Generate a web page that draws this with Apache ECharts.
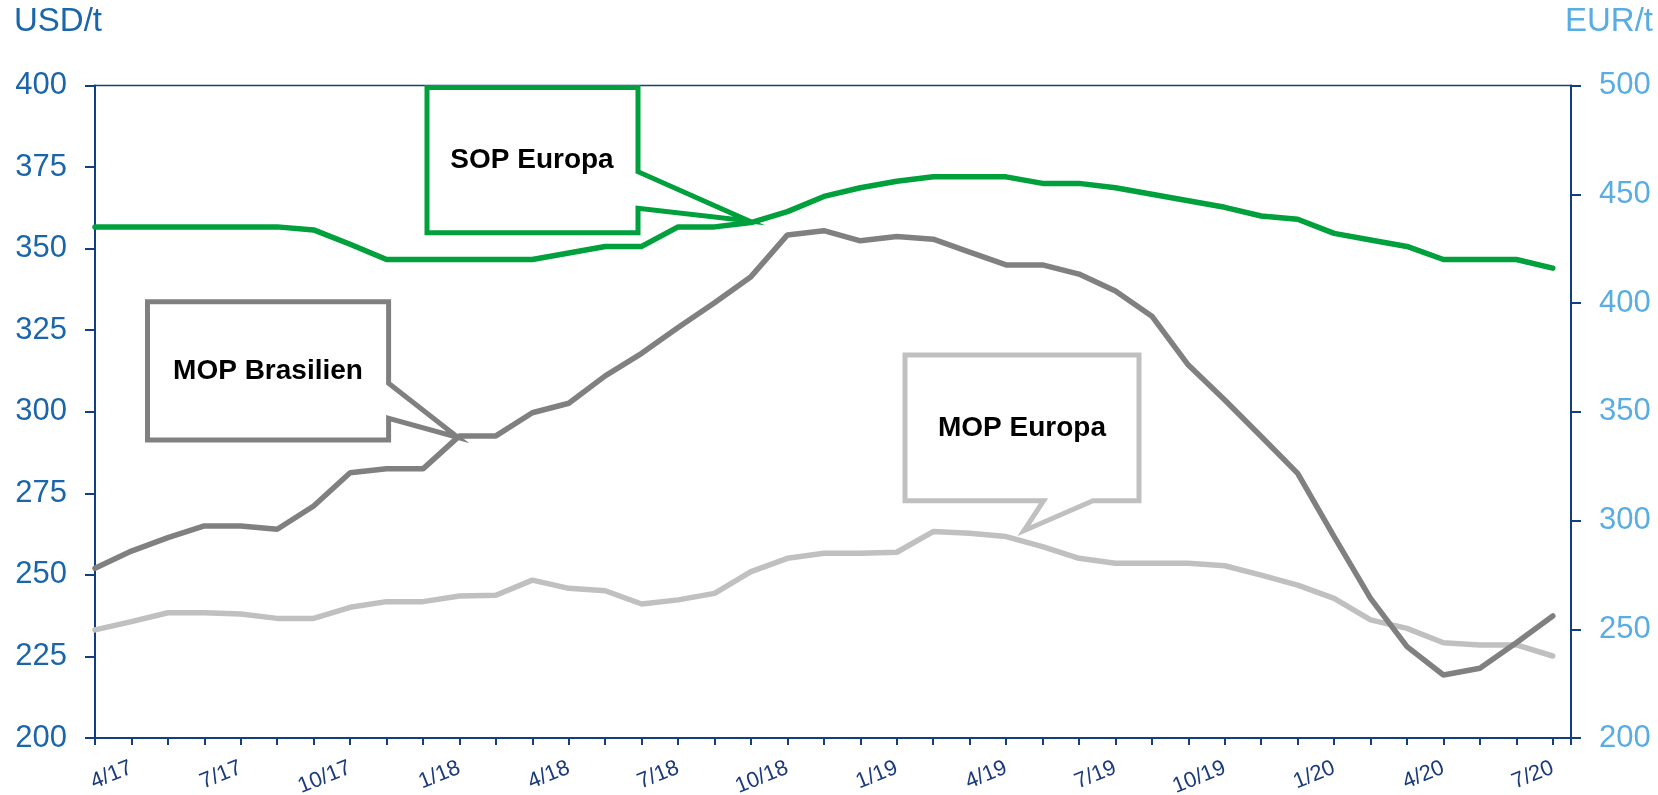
<!DOCTYPE html>
<html>
<head>
<meta charset="utf-8">
<script src="https://cdn.jsdelivr.net/npm/echarts/dist/echarts.min.js"></script>
<style>
  html, body { margin: 0; padding: 0; background: #fff; }
  #chart { width: 1658px; height: 795px; }
</style>
</head>
<body>
<div id="chart"></div>
<script>
// months, first point is 3/17
const months = [
  '3/17', '4/17', '5/17', '6/17', '7/17', '8/17', '9/17', '10/17', '11/17', '12/17',
  '1/18', '2/18', '3/18', '4/18', '5/18', '6/18', '7/18', '8/18', '9/18', '10/18', '11/18', '12/18',
  '1/19', '2/19', '3/19', '4/19', '5/19', '6/19', '7/19', '8/19', '9/19', '10/19', '11/19', '12/19',
  '1/20', '2/20', '3/20', '4/20', '5/20', '6/20', '7/20'
];

// USD/t (left axis)
const mopBrasilien = [
  252, 257.3, 261.4, 265, 265, 264, 271.1, 281.3, 282.5, 282.5,
  292.6, 292.6, 299.7, 302.6, 311, 317.9, 325.8, 333.4, 341.4, 354.2, 355.5, 352.4,
  353.7, 352.9, 348.9, 345, 345, 342.2, 337, 329.3, 314.3, 303.6, 292.4, 281.1,
  261.7, 242.8, 228, 219.3, 221.4, 229.2, 237.4
];

// EUR/t (right axis)
const sopEuropa = [
  435, 435, 435, 435, 435, 435, 433.6, 427, 420, 420,
  420, 420, 420, 423, 426, 426, 435, 435, 437, 442, 449, 453,
  456, 458, 458, 458, 455, 455, 453, 450, 447, 444, 440, 438.5,
  432, 429, 426, 420, 420, 420, 416
];

const mopEuropa = [
  249.7, 253.5, 257.6, 257.6, 257, 255, 255, 260.1, 262.7, 262.7,
  265.3, 265.6, 272.6, 268.8, 267.7, 261.6, 263.5, 266.5, 276.5, 282.6, 284.9, 284.9,
  285.4, 294.9, 294.1, 292.6, 288, 282.6, 280.3, 280.3, 280.3, 279.2, 274.9, 270.3,
  264.2, 254.3, 250.4, 243.8, 242.8, 242.8, 237.7
];

const FONT = '"Liberation Sans", Arial, sans-serif';
const NAVY = '#123f80';
const toPairs = (arr) => arr.map((v, i) => [i, v]);

const chart = echarts.init(document.getElementById('chart'));

const callout = (points, color) => ({
  type: 'polygon',
  shape: { points },
  style: { fill: null, stroke: color, lineWidth: 5, lineJoin: 'miter' },
  z: 10
});
const calloutText = (text, x, y) => ({
  type: 'text',
  x, y,
  style: {
    text,
    font: 'bold 28px ' + FONT,
    fill: '#000',
    align: 'center',
    verticalAlign: 'middle'
  },
  z: 11
});

chart.setOption({
  animation: false,
  grid: {
    left: 95, right: 87, top: 85.5, bottom: 57,
    outerBoundsMode: 'none',
    show: true,
    borderColor: NAVY,
    borderWidth: 1.5
  },
  xAxis: {
    type: 'value',
    min: 0,
    max: months.length - 0.5,
    interval: 1,
    splitLine: { show: false },
    axisLine: { lineStyle: { color: NAVY, width: 2 } },
    axisTick: { length: 7, lineStyle: { color: NAVY, width: 2 } },
    axisLabel: {
      rotate: 22,
      margin: 29,
      color: '#1a3a7c',
      fontSize: 22,
      fontFamily: FONT,
      showMaxLabel: true,
      formatter: (v) => (Number.isInteger(v) && (v - 1) % 3 === 0 ? months[v] : '')
    }
  },
  yAxis: [
    {
      type: 'value',
      min: 200, max: 400, interval: 25,
      splitLine: { show: false },
      axisLine: { show: true, lineStyle: { color: NAVY, width: 2 } },
      axisTick: { show: true, length: 10, lineStyle: { color: NAVY, width: 2 } },
      axisLabel: { margin: 28, color: '#1b65aa', fontSize: 31, fontFamily: FONT }
    },
    {
      type: 'value',
      position: 'right',
      min: 200, max: 500, interval: 50,
      splitLine: { show: false },
      axisLine: { show: true, lineStyle: { color: NAVY, width: 2 } },
      axisTick: { show: true, length: 10, lineStyle: { color: NAVY, width: 2 } },
      axisLabel: { margin: 28, color: '#5aade2', fontSize: 31, fontFamily: FONT }
    }
  ],
  series: [
    {
      name: 'MOP Europa',
      type: 'line',
      yAxisIndex: 1,
      data: toPairs(mopEuropa),
      showSymbol: false,
      lineStyle: { color: '#c0c0c0', width: 5.5, cap: 'round' }
    },
    {
      name: 'MOP Brasilien',
      type: 'line',
      yAxisIndex: 0,
      data: toPairs(mopBrasilien),
      showSymbol: false,
      lineStyle: { color: '#808080', width: 5.5, cap: 'round' }
    },
    {
      name: 'SOP Europa',
      type: 'line',
      yAxisIndex: 1,
      data: toPairs(sopEuropa),
      showSymbol: false,
      lineStyle: { color: '#00a03c', width: 5.5, cap: 'round' }
    }
  ],
  graphic: [
    { type: 'text', left: 14, top: 5, style: { text: 'USD/t', font: '33px ' + FONT, fill: '#1b65aa' } },
    { type: 'text', right: 5, top: 5, style: { text: 'EUR/t', font: '33px ' + FONT, fill: '#5aade2' } },
    callout([[427, 87.5], [638, 87.5], [638, 171.7], [749, 221], [638, 208.3], [638, 232.7], [427, 232.7]], '#00a03c'),
    calloutText('SOP Europa', 532, 160),
    callout([[147.5, 301.7], [388.6, 301.7], [388.6, 383.3], [458, 437.5], [388.6, 418.3], [388.6, 440], [147.5, 440]], '#808080'),
    calloutText('MOP Brasilien', 268, 371),
    callout([[905, 355], [1139, 355], [1139, 500.7], [1093, 500.7], [1024, 530.7], [1043.6, 500.7], [905, 500.7]], '#c0c0c0'),
    calloutText('MOP Europa', 1022, 428)
  ]
});
</script>
</body>
</html>
